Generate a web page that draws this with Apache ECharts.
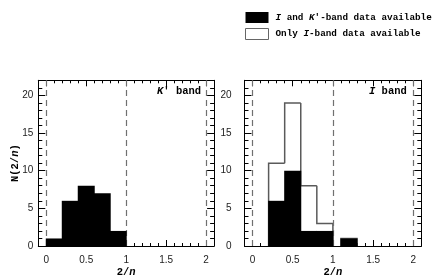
<!DOCTYPE html>
<html>
<head>
<meta charset="utf-8">
<script src="https://cdn.jsdelivr.net/npm/echarts@6/dist/echarts.min.js"></script>
<style>html,body{margin:0;padding:0;background:#fff;}#c{width:436px;height:280px;}</style>
</head>
<body>
<div id="c"></div>
<script>
// ---- data ----
const kStart = [0.0, 0.2, 0.4, 0.6, 0.8];
const kEnd   = [0.2, 0.4, 0.6, 0.8, 1.0];
const kCounts = [1, 6, 8, 7, 2];

const iBothStart = [0.2, 0.4, 0.6, 0.8, 1.1];
const iBothEnd   = [0.4, 0.6, 0.8, 1.0, 1.3];
const iBothCounts = [6, 10, 2, 2, 1];

const iAllStart = [0.2, 0.4, 0.6, 0.8, 1.1];
const iAllEnd   = [0.4, 0.6, 0.8, 1.0, 1.3];
const iAllCounts = [11, 19, 8, 3, 1];

const xMajorTicks = [0, 0.5, 1, 1.5, 2];
const xMinorTicks = [0.1, 0.2, 0.3, 0.4, 0.6, 0.7, 0.8, 0.9, 1.1, 1.2, 1.3, 1.4, 1.6, 1.7, 1.8, 1.9];
const yMajorTicks = [0, 5, 10, 15, 20];
const yMinorTicks = [1, 2, 3, 4, 6, 7, 8, 9, 11, 12, 13, 14, 16, 17, 18, 19, 21];
const refLines = [0, 1, 2];

const nameBoth = "I and K'-band data available";
const nameOnly = "Only I-band data available";

const MONO = '"Liberation Mono", "DejaVu Sans Mono", monospace';
const SANS = '"Liberation Sans", Arial, sans-serif';

function toData(s, e, c) { return s.map((v, i) => [v, e[i], c[i]]); }

function barRender(params, api) {
  const p0 = api.coord([api.value(0), api.value(2)]);
  const p1 = api.coord([api.value(1), 0]);
  return { type: 'rect', z2: 10,
           shape: { x: p0[0] - 0.5, y: p0[1], width: p1[0] - p0[0] + 1, height: p1[1] - p0[1] },
           style: { fill: '#000', stroke: null, lineWidth: 0 } };
}
function outlineRender(params, api) {
  const i = params.dataIndex;
  const s = iAllStart[i], e = iAllEnd[i], c = iAllCounts[i];
  const prev = (i > 0 && Math.abs(iAllEnd[i - 1] - s) < 1e-9) ? iAllCounts[i - 1] : 0;
  const contNext = (i < iAllStart.length - 1 && Math.abs(iAllStart[i + 1] - e) < 1e-9);
  const pts = [api.coord([s, prev]), api.coord([s, c]), api.coord([e, c])];
  if (!contNext) pts.push(api.coord([e, 0]));
  return { type: 'polyline', shape: { points: pts }, style: { stroke: '#5a5a5a', lineWidth: 1.5, fill: null } };
}

const rich = {
  i: { fontFamily: MONO, fontStyle: 'italic', fontWeight: 'bold', fontSize: 10.5, color: '#000' },
  r: { fontFamily: MONO, fontWeight: 'bold', fontSize: 10.5, color: '#000' }
};

function xAxes(g, withName) {
  const base = { type: 'value', gridIndex: g, min: -0.1, max: 2.1, splitLine: { show: false }, z: 1 };
  return [
    Object.assign({}, base, {
      position: 'bottom',
      axisLine: { show: true, onZero: false, lineStyle: { color: '#000', width: 1 } },
      axisTick: { show: true, inside: true, length: 6, customValues: xMajorTicks, lineStyle: { color: '#000' } },
      axisLabel: { show: true, customValues: xMajorTicks, margin: 9, fontFamily: SANS, fontSize: 10, color: '#222',
                   formatter: v => String(v) },
      name: withName ? "2/{i|n}" : '', nameLocation: 'middle', nameGap: 21, nameMoveOverlap: false,
      nameTextStyle: { fontFamily: MONO, fontWeight: 'bold', fontSize: 10.5, color: '#000', rich: rich, verticalAlign: 'top' }
    }),
    Object.assign({}, base, {
      position: 'bottom',
      axisLine: { show: false, onZero: false },
      axisTick: { show: true, inside: true, length: 3, customValues: xMinorTicks, lineStyle: { color: '#000' } },
      axisLabel: { show: false }
    }),
    Object.assign({}, base, {
      position: 'top',
      axisLine: { show: true, onZero: false, lineStyle: { color: '#000', width: 1 } },
      axisTick: { show: true, inside: true, length: 6, customValues: xMajorTicks, lineStyle: { color: '#000' } },
      axisLabel: { show: false }
    }),
    Object.assign({}, base, {
      position: 'top',
      axisLine: { show: false, onZero: false },
      axisTick: { show: true, inside: true, length: 3, customValues: xMinorTicks, lineStyle: { color: '#000' } },
      axisLabel: { show: false }
    })
  ];
}
function yAxes(g, labelMargin, withName) {
  const base = { type: 'value', gridIndex: g, min: 0, max: 22, splitLine: { show: false }, z: 1 };
  return [
    Object.assign({}, base, {
      position: 'left',
      axisLine: { show: true, onZero: false, lineStyle: { color: '#000', width: 1 } },
      axisTick: { show: true, inside: true, length: 7, customValues: yMajorTicks, lineStyle: { color: '#000' } },
      axisLabel: { show: true, customValues: yMajorTicks, margin: labelMargin, fontFamily: SANS, fontSize: 10, color: '#222' },
      name: withName ? "N(2/{i|n})" : '', nameLocation: 'middle', nameGap: 17, nameRotate: 90, nameMoveOverlap: false,
      nameTextStyle: { fontFamily: MONO, fontWeight: 'bold', fontSize: 10.5, color: '#000', rich: rich }
    }),
    Object.assign({}, base, {
      position: 'left',
      axisLine: { show: false, onZero: false },
      axisTick: { show: true, inside: true, length: 4, customValues: yMinorTicks, lineStyle: { color: '#000' } },
      axisLabel: { show: false }
    }),
    Object.assign({}, base, {
      position: 'right',
      axisLine: { show: true, onZero: false, lineStyle: { color: '#000', width: 1 } },
      axisTick: { show: true, inside: true, length: 7, customValues: yMajorTicks, lineStyle: { color: '#000' } },
      axisLabel: { show: false }
    }),
    Object.assign({}, base, {
      position: 'right',
      axisLine: { show: false, onZero: false },
      axisTick: { show: true, inside: true, length: 4, customValues: yMinorTicks, lineStyle: { color: '#000' } },
      axisLabel: { show: false }
    })
  ];
}

const markLine = {
  silent: true, symbol: ['none', 'none'], label: { show: false },
  lineStyle: { type: [6, 4], color: '#707070', width: 1.2 },
  data: refLines.map(v => ({ xAxis: v }))
};

const chart = echarts.init(document.getElementById('c'), null, { renderer: 'canvas' });
chart.setOption({
  backgroundColor: '#fff',
  animation: false,
  grid: [
    { left: 38.3, top: 80.3, width: 175.8, height: 165.7, outerBoundsMode: 'none' },
    { left: 244.5, top: 80.3, width: 176.8, height: 165.7, outerBoundsMode: 'none' }
  ],
  xAxis: xAxes(0, true).concat(xAxes(1, true)),
  yAxis: yAxes(0, 5, true).concat(yAxes(1, 13, false)),
  legend: {
    orient: 'vertical', left: 245, top: 12, itemWidth: 23, itemHeight: 11, itemGap: 5, icon: 'rect',
    padding: 0, selectedMode: false,
    data: [
      { name: nameBoth, itemStyle: { color: '#000', borderWidth: 0 } },
      { name: nameOnly, itemStyle: { color: '#fff', borderColor: '#666', borderWidth: 1 } }
    ],
    formatter: n => n === nameBoth ? "{s| }{i|I}{r| and }{i|K}{r|'-band data available}" : "{s| }{r|Only }{i|I}{r|-band data available}",
    textStyle: {
      rich: {
        s: { fontSize: 4, width: 2 },
        i: { fontFamily: MONO, fontStyle: 'italic', fontWeight: 'bold', fontSize: 9.3, color: '#000' },
        r: { fontFamily: MONO, fontWeight: 'bold', fontSize: 9.3, color: '#000' }
      }
    }
  },
  graphic: [
    { type: 'text', left: 157, top: 86, style: { text: "{i|K}{r|' band}", rich: rich } },
    { type: 'text', left: 369, top: 86, style: { text: "{i|I}{r| band}", rich: rich } }
  ],
  series: [
    { name: nameBoth, type: 'custom', xAxisIndex: 0, yAxisIndex: 0, z: 5,
      renderItem: barRender, encode: { x: [0, 1], y: 2 },
      data: toData(kStart, kEnd, kCounts), markLine: markLine },
    { name: nameOnly, type: 'custom', xAxisIndex: 4, yAxisIndex: 4, z: 4,
      renderItem: outlineRender, encode: { x: [0, 1], y: 2 },
      data: toData(iAllStart, iAllEnd, iAllCounts) },
    { name: nameBoth, type: 'custom', xAxisIndex: 4, yAxisIndex: 4, z: 5,
      renderItem: barRender, encode: { x: [0, 1], y: 2 },
      data: toData(iBothStart, iBothEnd, iBothCounts), markLine: markLine }
  ]
});
</script>
</body>
</html>
